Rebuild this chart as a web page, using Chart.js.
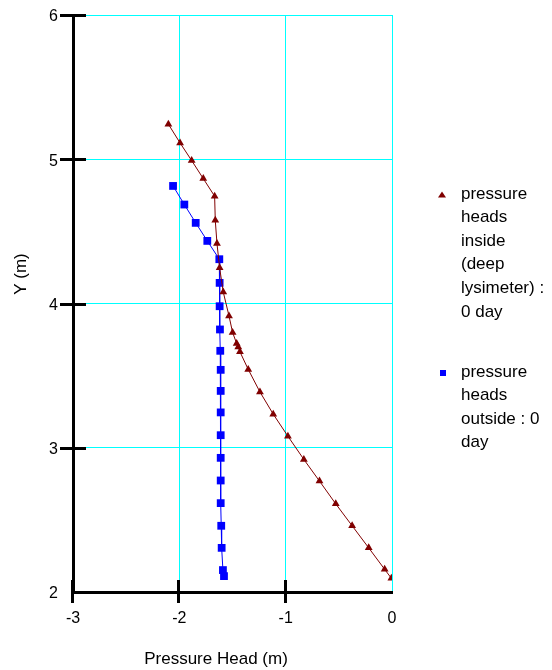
<!DOCTYPE html>
<html>
<head>
<meta charset="utf-8">
<script src="https://cdn.jsdelivr.net/npm/chart.js@4/dist/chart.umd.min.js"></script>
<style>
html,body{margin:0;padding:0;background:#fff;}
#wrap{position:relative;width:552px;height:670px;}
</style>
</head>
<body>
<div id="wrap"><canvas id="c" width="552" height="670"></canvas></div>
<script>
// ---- data ----
const insideX = [-2.103, -1.993, -1.884, -1.775, -1.668, -1.662, -1.646, -1.621, -1.587, -1.533, -1.499, -1.461, -1.446, -1.430, -1.352, -1.242, -1.117, -0.979, -0.829, -0.682, -0.529, -0.375, -0.219, -0.069, -0.006];
const insideY = [5.243, 5.113, 4.991, 4.866, 4.744, 4.577, 4.416, 4.247, 4.080, 3.914, 3.799, 3.723, 3.699, 3.665, 3.543, 3.387, 3.233, 3.080, 2.919, 2.769, 2.611, 2.459, 2.306, 2.157, 2.095];
const outsideX = [-2.059, -1.953, -1.846, -1.737, -1.624, -1.621, -1.621, -1.618, -1.615, -1.611, -1.611, -1.611, -1.611, -1.611, -1.611, -1.611, -1.606, -1.602, -1.590, -1.580];
const outsideY = [4.815, 4.686, 4.559, 4.434, 4.307, 4.143, 3.981, 3.820, 3.672, 3.540, 3.394, 3.245, 3.087, 2.930, 2.773, 2.616, 2.459, 2.306, 2.152, 2.110];
const insideLegendLines = ['pressure', 'heads', 'inside', '(deep', 'lysimeter) :', '0 day'];
const outsideLegendLines = ['pressure', 'heads', 'outside : 0', 'day'];
const xTitle = 'Pressure Head (m)';
const yTitle = 'Y (m)';
const xRange = [-3, 0];
const yRange = [2, 6];

const FONT = '"Liberation Sans", Arial, sans-serif';
const toPts = (xs, ys) => xs.map((x, i) => ({x: x, y: ys[i]}));

const overlay = {
  id: 'overlay',
  afterDraw(chart) {
    const ctx = chart.ctx, xs = chart.scales.x, ys = chart.scales.y;
    ctx.save();
    // tick marks crossing the axes
    ctx.strokeStyle = '#000';
    ctx.lineWidth = 3;
    xs.ticks.forEach(t => {
      if (t.value === xs.max) return;
      const px = Math.round(xs.getPixelForValue(t.value)) - 0.5;
      ctx.beginPath(); ctx.moveTo(px, ys.bottom - 12); ctx.lineTo(px, ys.bottom + 11); ctx.stroke();
    });
    ys.ticks.forEach(t => {
      if (t.value === ys.min) return;
      const py = Math.round(ys.getPixelForValue(t.value)) + 0.5;
      ctx.beginPath(); ctx.moveTo(xs.left - 13, py); ctx.lineTo(xs.left + 13, py); ctx.stroke();
    });
    // axis titles
    ctx.fillStyle = '#000';
    ctx.font = '17px ' + FONT;
    ctx.textAlign = 'center';
    ctx.textBaseline = 'middle';
    ctx.fillText(xTitle, 216, 659);
    ctx.save();
    ctx.translate(21, 274);
    ctx.rotate(-Math.PI / 2);
    ctx.fillText(yTitle, 0, 0);
    ctx.restore();
    // legend
    ctx.textAlign = 'left';
    ctx.font = '17px ' + FONT;
    const ds = chart.data.datasets;
    const entries = [
      {lines: insideLegendLines, y0: 194, ds: ds[0]},
      {lines: outsideLegendLines, y0: 372, ds: ds[1]}
    ];
    entries.forEach(e => {
      ctx.fillStyle = e.ds.pointBackgroundColor;
      if (e.ds.pointStyle === 'triangle') {
        ctx.beginPath();
        ctx.moveTo(442, e.y0 - 2.5);
        ctx.lineTo(446, e.y0 + 3.5);
        ctx.lineTo(438, e.y0 + 3.5);
        ctx.closePath();
        ctx.fill();
      } else {
        ctx.fillRect(440, e.y0 - 2, 6, 6);
      }
      ctx.fillStyle = '#000';
      e.lines.forEach((l, i) => ctx.fillText(l, 461, e.y0 + i * 23.6));
    });
    ctx.restore();
  }
};

new Chart(document.getElementById('c'), {
  type: 'scatter',
  data: {
    datasets: [
      {
        label: insideLegendLines.join(' '),
        data: toPts(insideX, insideY),
        showLine: true,
        borderColor: '#800000',
        borderWidth: 1,
        pointStyle: 'triangle',
        pointRadius: 4.5,
        pointBackgroundColor: '#800000',
        pointBorderColor: '#800000',
        pointBorderWidth: 0
      },
      {
        label: outsideLegendLines.join(' '),
        data: toPts(outsideX, outsideY),
        showLine: true,
        borderColor: '#0000ff',
        borderWidth: 1,
        pointStyle: 'rect',
        pointRadius: 5.5,
        pointBackgroundColor: '#0000ff',
        pointBorderColor: '#0000ff',
        pointBorderWidth: 0
      }
    ]
  },
  options: {
    responsive: false,
    animation: false,
    devicePixelRatio: 1,
    layout: {padding: {left: 0, top: 15, right: 160, bottom: 0}},
    plugins: {legend: {display: false}, tooltip: {enabled: false}},
    scales: {
      x: {
        type: 'linear', min: xRange[0], max: xRange[1],
        afterFit: s => { s.height = 78; },
        ticks: {stepSize: 1, color: '#000', font: {family: FONT, size: 16}, padding: 0},
        grid: {color: '#00ffff', lineWidth: 1, drawTicks: true, tickLength: 17, tickColor: 'rgba(0,0,0,0)'},
        border: {display: true, color: '#000', width: 3}
      },
      y: {
        type: 'linear', min: yRange[0], max: yRange[1],
        afterFit: s => { s.width = 73; },
        ticks: {stepSize: 1, color: '#000', font: {family: FONT, size: 16}, padding: 0, labelOffset: 2},
        grid: {color: '#00ffff', lineWidth: 1, drawTicks: true, tickLength: 15, tickColor: 'rgba(0,0,0,0)'},
        border: {display: true, color: '#000', width: 3}
      }
    }
  },
  plugins: [overlay]
});
</script>
</body>
</html>
